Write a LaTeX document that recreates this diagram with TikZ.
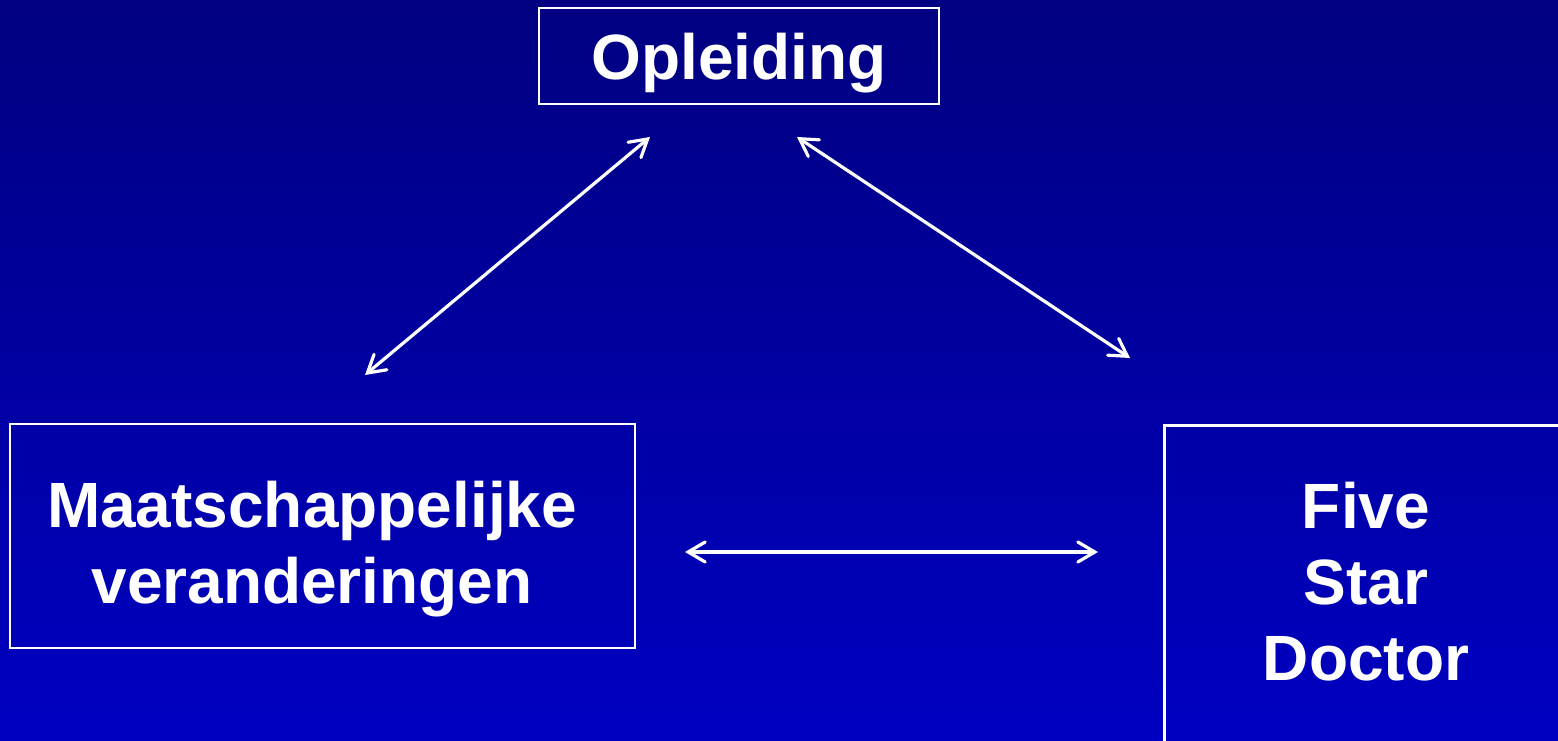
\documentclass[tikz,border=0pt]{standalone}
\usepackage{fontspec}
\setmainfont{Liberation Sans}
\usetikzlibrary{arrows.meta}
\definecolor{bgtop}{RGB}{0,0,128}
\definecolor{bgbottom}{RGB}{0,0,194}
\tikzset{
  frame/.style={draw=white, line width=2.5pt, inner sep=0pt},
  caption/.style={text=white, font=\fontsize{64}{76}\selectfont\bfseries, align=center, inner sep=0pt},
  link/.style={white, line width=3.2pt, line cap=round,
    {Straight Barb[length=17pt,width=20pt,line cap=round]}-{Straight Barb[length=17pt,width=20pt,line cap=round]}}
}
\begin{document}
\begin{tikzpicture}[x=1pt,y=-1pt]
  \useasboundingbox (0,0) rectangle (1558,741);
  \clip (0,0) rectangle (1558,741);
  \shade[top color=bgtop, bottom color=bgbottom] (0,0) rectangle (1558,741);

  % top box
  \node[frame, caption, text height=48pt, text depth=0pt,
        minimum width=400pt, minimum height=96pt] (opl) at (739,56) {Opleiding};

  % left box
  \node[frame, minimum width=625pt, minimum height=224pt] (maatbox) at (322.5,536) {};
  \node[caption] (maat) at (312,549) {Maatschappelijke\\veranderingen};

  % right box, running off the page
  \node[frame, anchor=north west, minimum width=420pt, minimum height=360pt] (fsdbox) at (1163,424) {};
  \node[caption] (fsd) at (1366,582) {Five\\Star\\Doctor};

  % connector ends
  \coordinate (a1) at (365,375);
  \coordinate (a2) at (650,137);
  \coordinate (b1) at (797,137);
  \coordinate (b2) at (1130,358);
  \coordinate (c1) at (685,552);
  \coordinate (c2) at (1098,552);

  \draw[link] (a1) -- (a2);
  \draw[link] (b1) -- (b2);
  \draw[link] (c1) -- (c2);
\end{tikzpicture}
\end{document}
